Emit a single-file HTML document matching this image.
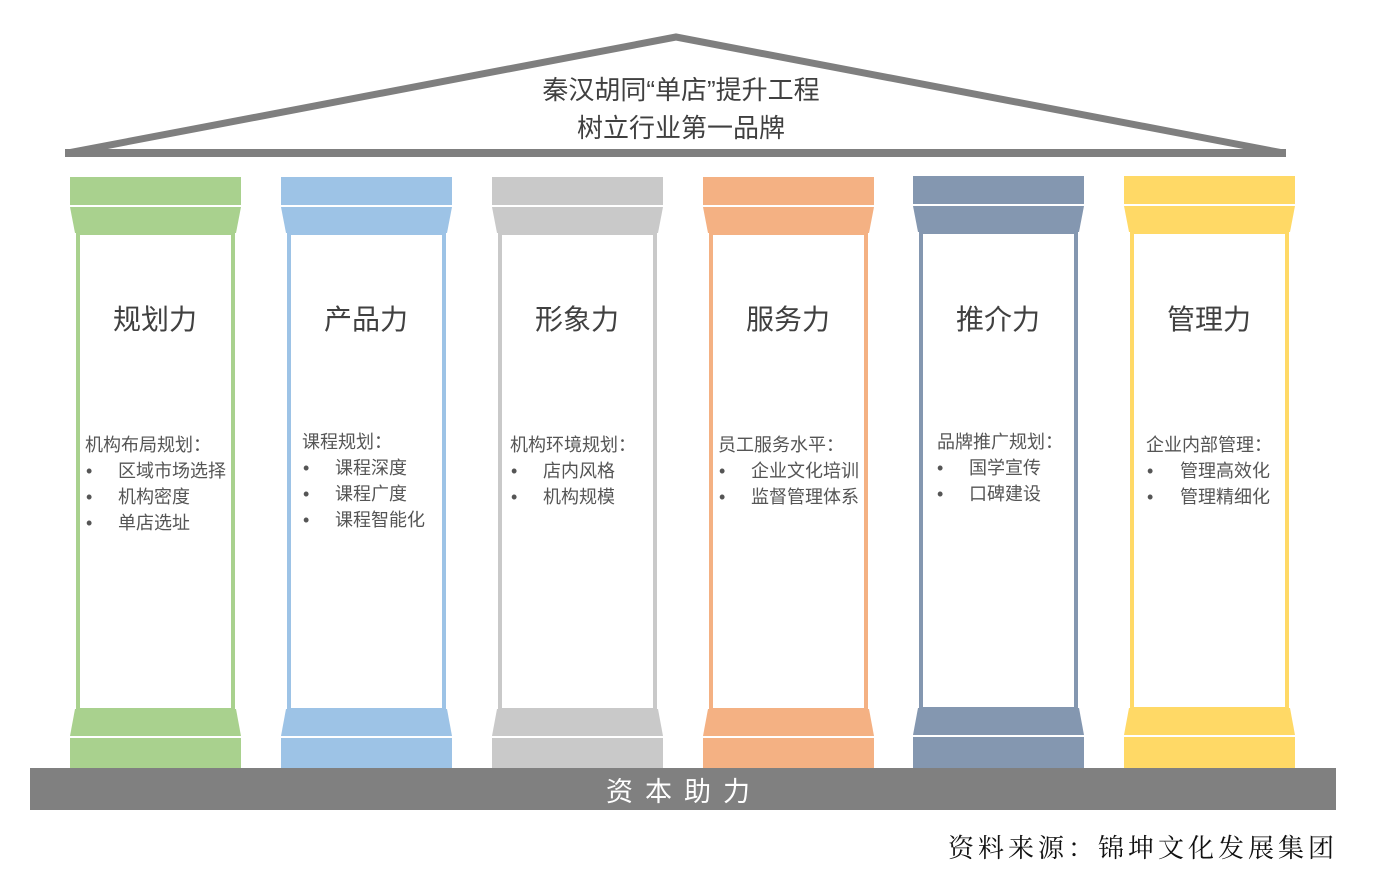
<!DOCTYPE html>
<html><head><meta charset="utf-8"><style>
html,body{margin:0;padding:0;background:#fff;}
svg{display:block;}
text{font-family:"Liberation Sans","Noto Sans CJK SC",sans-serif;}
</style></head><body>
<svg width="1399" height="887" viewBox="0 0 1399 887" xmlns="http://www.w3.org/2000/svg">
<polyline points="68,153 676,37 1283,153" fill="none" stroke="#7f7f7f" stroke-width="7" stroke-linejoin="miter"/>
<rect x="65" y="149" width="1221" height="8" fill="#7f7f7f"/>
<text x="681" y="99" font-size="26" fill="#404040" text-anchor="middle">秦汉胡同“单店”提升工程</text>
<text x="681" y="137" font-size="26" fill="#404040" text-anchor="middle">树立行业第一品牌</text>

<g>
<g transform="translate(70,0)">
<rect x="0" y="177" width="171" height="28" fill="#a9d18e"/>
<polygon points="0,207 171,207 166,233 5,233" fill="#a9d18e"/>
<rect x="8" y="233" width="155" height="477" fill="#fff" stroke="#a9d18e" stroke-width="4"/>
<polygon points="5,709 166,709 171,736 0,736" fill="#a9d18e"/>
<rect x="0" y="738" width="171" height="31" fill="#a9d18e"/>
</g>
<g transform="translate(281,0)">
<rect x="0" y="177" width="171" height="28" fill="#9dc3e6"/>
<polygon points="0,207 171,207 166,233 5,233" fill="#9dc3e6"/>
<rect x="8" y="233" width="155" height="477" fill="#fff" stroke="#9dc3e6" stroke-width="4"/>
<polygon points="5,709 166,709 171,736 0,736" fill="#9dc3e6"/>
<rect x="0" y="738" width="171" height="31" fill="#9dc3e6"/>
</g>
<g transform="translate(492,0)">
<rect x="0" y="177" width="171" height="28" fill="#c9c9c9"/>
<polygon points="0,207 171,207 166,233 5,233" fill="#c9c9c9"/>
<rect x="8" y="233" width="155" height="477" fill="#fff" stroke="#c9c9c9" stroke-width="4"/>
<polygon points="5,709 166,709 171,736 0,736" fill="#c9c9c9"/>
<rect x="0" y="738" width="171" height="31" fill="#c9c9c9"/>
</g>
<g transform="translate(703,0)">
<rect x="0" y="177" width="171" height="28" fill="#f4b183"/>
<polygon points="0,207 171,207 166,233 5,233" fill="#f4b183"/>
<rect x="8" y="233" width="155" height="477" fill="#fff" stroke="#f4b183" stroke-width="4"/>
<polygon points="5,709 166,709 171,736 0,736" fill="#f4b183"/>
<rect x="0" y="738" width="171" height="31" fill="#f4b183"/>
</g>
<g transform="translate(913,0)">
<rect x="0" y="176" width="171" height="28" fill="#8497b0"/>
<polygon points="0,206 171,206 166,232 5,232" fill="#8497b0"/>
<rect x="8" y="232" width="155" height="477" fill="#fff" stroke="#8497b0" stroke-width="4"/>
<polygon points="5,708 166,708 171,735 0,735" fill="#8497b0"/>
<rect x="0" y="737" width="171" height="32" fill="#8497b0"/>
</g>
<g transform="translate(1124,0)">
<rect x="0" y="176" width="171" height="28" fill="#ffd966"/>
<polygon points="0,206 171,206 166,232 5,232" fill="#ffd966"/>
<rect x="8" y="232" width="155" height="477" fill="#fff" stroke="#ffd966" stroke-width="4"/>
<polygon points="5,708 166,708 171,735 0,735" fill="#ffd966"/>
<rect x="0" y="737" width="171" height="32" fill="#ffd966"/>
</g>
</g>

<g font-size="28" fill="#404040" text-anchor="middle">
<text x="155" y="329">规划力</text>
<text x="366" y="329">产品力</text>
<text x="577" y="329">形象力</text>
<text x="788" y="329">服务力</text>
<text x="998" y="329">推介力</text>
<text x="1209" y="329">管理力</text>
</g>

<g font-size="18" fill="#555">
<text x="85" y="451">机构布局规划：</text>
<text x="86" y="477">•</text><text x="118" y="477">区域市场选择</text>
<text x="86" y="503">•</text><text x="118" y="503">机构密度</text>
<text x="86" y="529">•</text><text x="118" y="529">单店选址</text>

<text x="302" y="448">课程规划：</text>
<text x="303" y="474">•</text><text x="335" y="474">课程深度</text>
<text x="303" y="500">•</text><text x="335" y="500">课程广度</text>
<text x="303" y="526">•</text><text x="335" y="526">课程智能化</text>

<text x="510" y="451">机构环境规划：</text>
<text x="511" y="477">•</text><text x="543" y="477">店内风格</text>
<text x="511" y="503">•</text><text x="543" y="503">机构规模</text>

<text x="718" y="451">员工服务水平：</text>
<text x="719" y="477">•</text><text x="751" y="477">企业文化培训</text>
<text x="719" y="503">•</text><text x="751" y="503">监督管理体系</text>

<text x="937" y="448">品牌推广规划：</text>
<text x="937" y="474">•</text><text x="969" y="474">国学宣传</text>
<text x="937" y="500">•</text><text x="969" y="500">口碑建设</text>

<text x="1146" y="451">企业内部管理：</text>
<text x="1147" y="477">•</text><text x="1180" y="477">管理高效化</text>
<text x="1147" y="503">•</text><text x="1180" y="503">管理精细化</text>
</g>

<rect x="30" y="768" width="1306" height="42" fill="#808080"/>
<text x="684" y="801" font-size="27" fill="#fff" text-anchor="middle" letter-spacing="12">资本助力</text>

<text x="948" y="857" font-size="26" fill="#111" letter-spacing="4" style="font-family:'Noto Serif CJK SC',serif">资料来源：锦坤文化发展集团</text>
</svg>
</body></html>
